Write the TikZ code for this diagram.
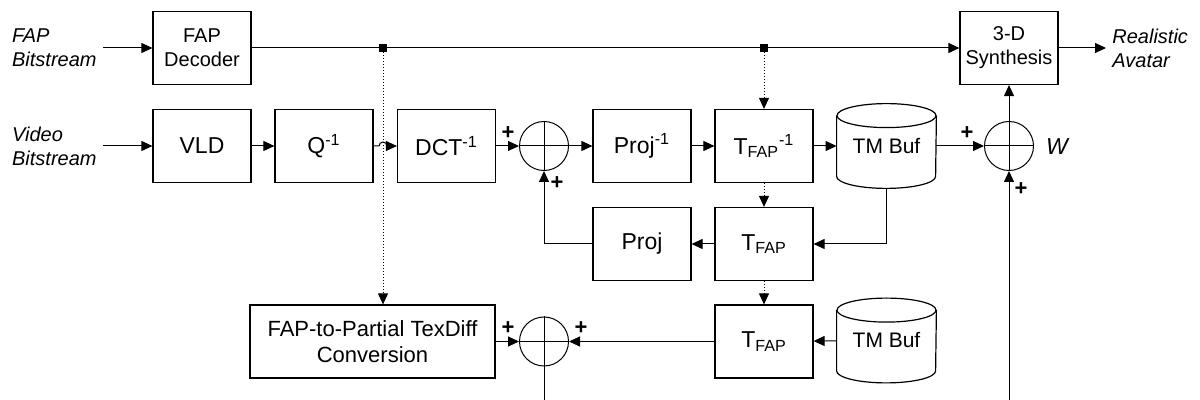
\documentclass[tikz,border=0pt]{standalone}
\usepackage{fontspec}
\setmainfont{Liberation Sans}
\usepackage{tikz}
\usetikzlibrary{arrows.meta,calc}

\tikzset{
  blk/.style={draw,line width=0.6pt,minimum width=49pt,minimum height=36.5pt,inner sep=0pt,align=center},
  sumc/.style={draw,circle,line width=0.5pt,minimum size=24.5pt,inner sep=0pt},
  buf/.style={minimum width=49.5pt,minimum height=42pt,inner sep=0pt},
  junc/.style={fill,rectangle,minimum size=4pt,inner sep=0pt},
  io/.style={font=\fontsize{10}{12}\selectfont\itshape,align=left,inner sep=3pt},
  pl/.style={font=\fontsize{11}{12}\selectfont\bfseries,inner sep=0pt},
  sig/.style={line width=0.5pt,-{Triangle[length=5.5pt,width=5pt]}},
  ctl/.style={line width=0.5pt,densely dotted,-{Triangle[length=5.5pt,width=5pt]}}
}
\newcommand{\cylbuf}[1]{%
  \draw[line width=0.6pt] ($(#1.north west)+(0,12)$) -- ($(#1.south west)+(0,-12)$)
    arc[start angle=180,end angle=360,x radius=24.75pt,y radius=6pt]
    -- ($(#1.north east)+(0,12)$);
  \draw[line width=0.6pt] ($(#1.north)+(0,12)$) ellipse[x radius=24.75pt,y radius=6pt];}

\begin{document}
\begin{tikzpicture}[x=0.5pt,y=-0.5pt]
\useasboundingbox (0,0) rectangle (1200,400);
\node[io,anchor=east] (fapin) at (103,48) {FAP\\Bitstream};
\node[io,anchor=east] (vidin) at (103,146) {Video\\Bitstream};
\node[blk,font=\fontsize{10}{12}\selectfont] (fapdec) at (202,48) {FAP\\Decoder};
\node[blk,font=\fontsize{10}{12}\selectfont] (synth) at (1009,48) {3-D\\Synthesis};
\node[io,anchor=west] (avatar) at (1106,48) {Realistic\\Avatar};
\node[blk,font=\fontsize{11.5}{13}\selectfont] (vld) at (202,146) {VLD};
\node[blk,font=\fontsize{11.5}{13}\selectfont] (qinv) at (324,146) {Q\textsuperscript{-1}};
\node[blk,font=\fontsize{11.5}{13}\selectfont] (dctinv) at (446.5,146) {DCT\textsuperscript{-1}};
\node[sumc] (sum1) at (544,146) {};
\node[blk,font=\fontsize{11.5}{13}\selectfont] (projinv) at (642,146) {Proj\textsuperscript{-1}};
\node[blk,font=\fontsize{11.5}{13}\selectfont] (tinv) at (764,146) {T\textsubscript{FAP}\textsuperscript{-1}};
\node[buf,font=\fontsize{10.5}{12}\selectfont] (tmbuf) at (886.5,146) {TM Buf};
\node[sumc] (sumw) at (1009,146) {};
\node[font=\fontsize{11.5}{13}\selectfont\itshape] (wlab) at (1057,147) {W};
\node[blk,font=\fontsize{11.5}{13}\selectfont] (proj) at (642,244) {Proj};
\node[blk,font=\fontsize{11.5}{13}\selectfont] (tfap) at (764,244) {T\textsubscript{FAP}};
\node[blk,minimum width=122.5pt,font=\fontsize{11}{13}\selectfont] (conv) at (372.5,341.5) {FAP-to-Partial TexDiff\\Conversion};
\node[sumc] (sum2) at (544,341.5) {};
\node[blk,font=\fontsize{11.5}{13}\selectfont] (tfap2) at (764,341.5) {T\textsubscript{FAP}};
\node[buf,font=\fontsize{10.5}{12}\selectfont] (tmbuf2) at (886.5,340.5) {TM Buf};
\cylbuf{tmbuf}
\cylbuf{tmbuf2}
\coordinate (wbot) at (1009,400);
\coordinate (sbot) at (544,400);
\draw[line width=0.5pt] (sum1.north) -- (sum1.south) (sum1.west) -- (sum1.east);
\draw[line width=0.5pt] (sumw.north) -- (sumw.south) (sumw.west) -- (sumw.east);
\draw[line width=0.5pt] (sum2.north) -- (sum2.south) (sum2.west) -- (sum2.east);
\draw[sig] (fapin) -- (fapdec);
\draw[sig] (fapdec) -- (synth);
\draw[sig] (synth) -- (avatar);
\draw[sig] (vidin) -- (vld);
\draw[sig] (vld) -- (qinv);
\draw[sig] (qinv.east) -- (379,146) arc[start angle=180,end angle=0,radius=2pt] -- (dctinv.west);
\draw[sig] (dctinv) -- (sum1);
\draw[sig] (sum1) -- (projinv);
\draw[sig] (projinv) -- (tinv);
\draw[sig] (tinv) -- (tmbuf);
\draw[sig] (tmbuf) -- (sumw);
\draw[sig] (sumw) -- (synth);
\draw[sig] (wbot) -- (sumw);
\draw[sig] (tmbuf.south) |- (tfap.east);
\draw[sig] (tfap) -- (proj);
\draw[sig] (proj.west) -| (sum1.south);
\draw[sig] (tmbuf2) -- (tfap2);
\draw[sig] (tfap2) -- (sum2);
\draw[sig] (conv) -- (sum2);
\draw[line width=0.5pt] (sum2.south) -- (sbot);
\node[junc] (j1) at (383,48) {};
\node[junc] (j2) at (764,48) {};
\draw[ctl] (j1) -- (j1 |- conv.north);
\draw[ctl] (j2) -- (tinv.north);
\draw[ctl] (tinv) -- (tfap);
\draw[ctl] (tfap) -- (tfap2);
\node[pl] (p1) at (508,133) {+};
\node[pl] (p2) at (557,183) {+};
\node[pl] (p3) at (967,133) {+};
\node[pl] (p4) at (1021,189) {+};
\node[pl] (p5) at (508,328) {+};
\node[pl] (p6) at (581,328) {+};
\end{tikzpicture}
\end{document}
